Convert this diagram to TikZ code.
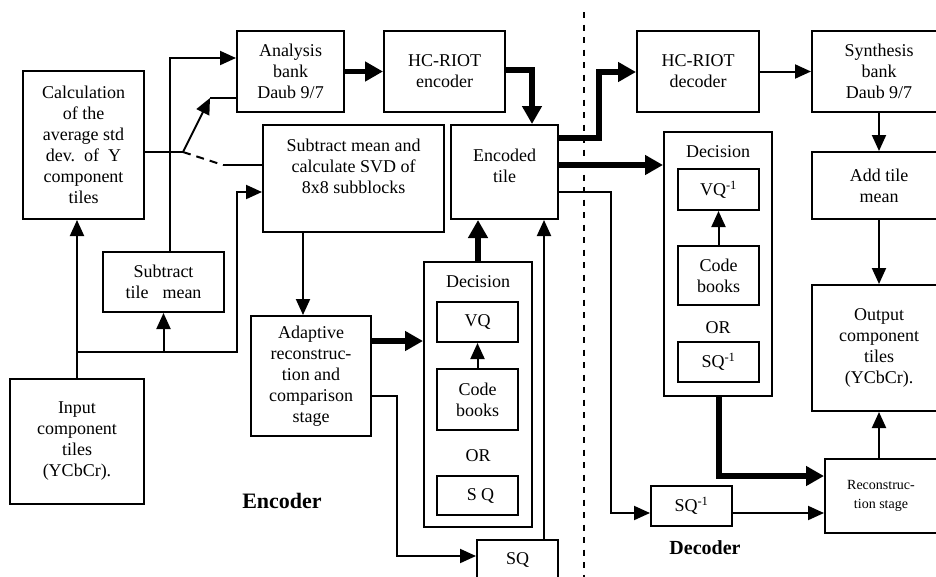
\documentclass[tikz,border=0pt]{standalone}
\usepackage{fontspec}
\setmainfont{Liberation Serif}
\usetikzlibrary{arrows.meta,calc}
\begin{document}
\begin{tikzpicture}[x=1pt,y=-1pt,
 box/.style={draw,line width=2pt,inner sep=0pt,align=center,font=\fontsize{18}{21}\selectfont},
 txt/.style={inner sep=0pt,align=center,font=\fontsize{18}{21}\selectfont},
 thinline/.style={line width=2pt},
 arr/.style={line width=2pt,-{Triangle[length=16pt,width=14pt]}},
 tarr/.style={line width=5.5pt,line join=miter,-{Triangle[length=18pt,width=19pt]}},
 swdash/.style={line width=2pt,dash pattern=on 8pt off 6pt},
 sepline/.style={line width=1.6pt,dash pattern=on 6pt off 6.5pt},
 lbl/.style={inner sep=0pt,font=\fontsize{22}{24}\selectfont\bfseries},
]
\useasboundingbox (0,0) rectangle (936,576);
\fill[white] (0,0) rectangle (936,576);

% ---------- encoder boxes ----------
\node[box,minimum width=121pt,minimum height=148pt] (calc) at (83.5,145)
  {Calculation\\of the\\average std\\dev.\ \ of\ \ Y\\component\\tiles};
\node[box,minimum width=107pt,minimum height=81pt] (ana) at (290.5,71.5)
  {Analysis\\bank\\Daub 9/7};
\node[box,minimum width=121pt,minimum height=81pt] (hce) at (444.5,71.5)
  {HC-RIOT\\encoder};
\node[box,minimum width=181pt,minimum height=107pt] (sub) at (353.5,178.5) {};
\node[txt] (subt) at (353.5,166) {Subtract mean and\\calculate SVD of\\8x8 subblocks};
\node[box,minimum width=107pt,minimum height=94pt] (enc) at (504.5,172) {};
\node[txt] (enct) at (504.5,166) {Encoded\\tile};
\node[box,minimum width=121pt,minimum height=60pt] (stm) at (163.5,282)
  {Subtract\\tile\hspace{14pt}mean};
\node[box,minimum width=134pt,minimum height=125pt] (inp) at (77,441.5)
  {Input\\component\\tiles\\(YCbCr).};
\node[box,minimum width=120pt,minimum height=120pt] (ada) at (311,376)
  {Adaptive\\reconstruc-\\tion and\\comparison\\stage};
\node[box,minimum width=108pt,minimum height=265pt] (decE) at (478,394.5) {};
\node[txt] (decEt) at (478,282) {Decision};
\node[box,minimum width=81pt,minimum height=40pt] (vqE) at (477.5,322) {VQ};
\node[box,minimum width=81pt,minimum height=61pt] (cbE) at (477.5,399.5) {Code\\books};
\node[txt] (orE) at (478,456) {OR};
\node[box,minimum width=81pt,minimum height=39pt] (sqE) at (477.5,495.5) {\hspace{6pt}S Q};
\node[box,minimum width=81pt,minimum height=40pt] (sqB) at (517.5,560) {SQ};
\node[lbl] (encl) at (282,501) {Encoder};

% ---------- decoder boxes ----------
\node[box,minimum width=122pt,minimum height=81pt] (hcd) at (698,71.5)
  {HC-RIOT\\decoder};
\node[box,minimum width=134pt,minimum height=81pt] (syn) at (879,71.5)
  {Synthesis\\bank\\Daub 9/7};
\node[box,minimum width=134pt,minimum height=67pt] (add) at (879,185.5)
  {Add tile\\mean};
\node[box,minimum width=134pt,minimum height=126pt] (out) at (879,348)
  {Output\\component\\tiles\\(YCbCr).};
\node[box,minimum width=112pt,minimum height=74pt,font=\fontsize{14}{19}\selectfont] (rec) at (881,496)
  {Reconstruc-\\tion stage};
\node[box,minimum width=108pt,minimum height=264pt] (decD) at (718,264) {};
\node[txt] (decDt) at (718,152) {Decision};
\node[box,minimum width=81pt,minimum height=41pt] (vqD) at (718.5,189.5) {VQ\textsuperscript{-1}};
\node[box,minimum width=81pt,minimum height=59pt] (cbD) at (718.5,275.5) {Code\\books};
\node[txt] (orD) at (718,328) {OR};
\node[box,minimum width=81pt,minimum height=40pt] (sqD) at (718.5,362) {SQ\textsuperscript{-1}};
\node[box,minimum width=81pt,minimum height=40pt] (sqs) at (691.5,506) {SQ\textsuperscript{-1}};
\node[lbl,font=\fontsize{20}{22}\selectfont\bfseries] (decl) at (705,548) {Decoder};

% ---------- separator ----------
\coordinate (sepT) at (584,12);
\coordinate (sepB) at (584,578);
\draw[sepline] (sepT) -- (sepB);

% ---------- encoder connectors ----------
\draw[arr] (inp.north) -- (inp.north |- calc.south);
\coordinate (j1) at (77,352);
\draw[arr] (j1) -- (237,352) -- (237,192) -- (sub.west |- 0,192);
\draw[arr] (stm.south |- j1) -- (stm.south);
\draw[arr] (stm.north -| 170,0) -- (170,58) -- (ana.west |- 0,58);
\coordinate (piv) at (183,152);
\coordinate (sw1) at (210,98);
\coordinate (sw2) at (223,165);
\draw[thinline] (calc.east |- piv) -- (piv);
\draw[arr] (piv) -- (sw1);
\draw[thinline] (sw1) -- (sw1 -| ana.west);
\draw[swdash] (piv) -- (sw2);
\draw[thinline] (sw2) -- (sw2 -| sub.west);
\draw[tarr] (ana.east) -- (hce.west);
\draw[tarr] (hce.east |- 0,70) -- (532,70) -- (enc.north -| 532,0);
\draw[arr] (sub.south -| 303,0) -- (ada.north -| 303,0);
\draw[tarr] (ada.east |- 0,341) -- (decE.west |- 0,341);
\draw[arr] (ada.east |- 0,396) -- (397,396) -- (397,556) -- (sqB.west |- 0,556);
\draw[tarr] (decE.north -| 478,0) -- (enc.south -| 478,0);
\draw[arr] (sqB.north -| 544,0) -- (enc.south -| 544,0);
\draw[arr] (cbE.north) -- (vqE.south);

% ---------- decoder connectors ----------
\draw[tarr] (enc.east |- 0,138) -- (599,138) -- (599,72) -- (hcd.west |- 0,72);
\draw[tarr] (enc.east |- 0,165) -- (decD.west |- 0,165);
\draw[arr] (enc.east |- 0,192) -- (611,192) -- (611,513) -- (sqs.west |- 0,513);
\draw[arr] (hcd.east) -- (syn.west);
\draw[arr] (syn.south) -- (add.north);
\draw[arr] (add.south) -- (out.north);
\draw[arr] (rec.north -| out.south) -- (out.south);
\draw[tarr] (decD.south -| 719,0) -- (719,476) -- (rec.west |- 0,476);
\draw[arr] (sqs.east |- 0,513) -- (rec.west |- 0,513);
\draw[arr] (cbD.north) -- (vqD.south);
\end{tikzpicture}
\end{document}
